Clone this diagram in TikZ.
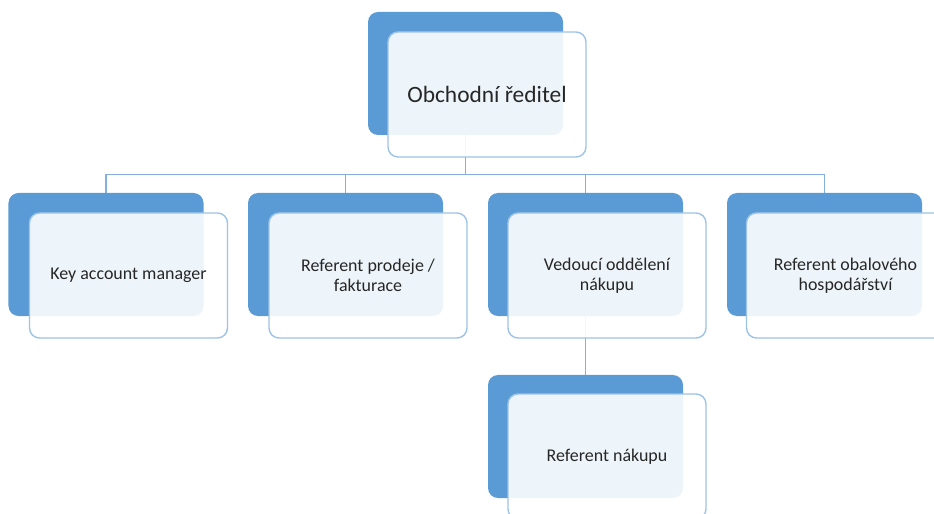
\documentclass[tikz,border=0pt]{standalone}
\usepackage{fontspec}
\setmainfont{Carlito}
\usepackage{tikz}
\usetikzlibrary{backgrounds}
\definecolor{backblue}{RGB}{91,155,213}
\definecolor{edgeblue}{RGB}{157,195,230}
\definecolor{linkblue}{RGB}{132,176,222}

\begin{document}
\begin{tikzpicture}[x=1bp, y=-1bp,
	back/.style = {fill=backblue, rounded corners=10bp, minimum width=195bp, minimum height=123bp},
	front/.style = {draw=edgeblue, line width=1.4pt, fill=white, fill opacity=.9, text opacity=1, rounded corners=10bp,
		minimum width=198bp, minimum height=125bp, align=center, text=black!85, font=\fontsize{18}{20.5}\selectfont},
	link/.style = {draw=linkblue, line width=1.4pt}]
	\clip (0,0) rectangle (934,514);
	% top
	\node[back] (dirB) at (465.5,73.5) {};
	\node[front, font=\fontsize{23.5}{28}\selectfont] (dir) at ([shift={(21.5,21)}]dirB) {Obchodní ředitel};
	% second row
	\node[back] (kamB) at (106,254.5) {};
	\node[front] (kam) at ([shift={(22.5,21)}]kamB) {Key account manager};
	\node[back] (prodB) at (345.5,254.5) {};
	\node[front] (prod) at ([shift={(22.5,21)}]prodB) {Referent prodeje /\\ fakturace};
	\node[back] (nakB) at (585.5,254.5) {};
	\node[front] (nak) at ([shift={(21.5,21)}]nakB) {Vedoucí oddělení\\ nákupu};
	\node[back] (obalB) at (824.5,254.5) {};
	\node[front] (obal) at ([shift={(21,21)}]obalB) {Referent obalového\\ hospodářství};
	% bottom
	\node[back] (refB) at (585.5,436.5) {};
	\node[front] (ref) at ([shift={(21.5,20)}]refB) {Referent nákupu};
	\begin{scope}[on background layer]
		\draw[link] (dirB.south) -- ++(0,39) -| (kamB.north);
		\draw[link] (dirB.south) -- ++(0,39) -| (prodB.north);
		\draw[link] (dirB.south) -- ++(0,39) -| (nakB.north);
		\draw[link] (dirB.south) -- ++(0,39) -| (obalB.north);
		\draw[link] (nakB.south) -- (refB.north);
	\end{scope}
\end{tikzpicture}
\end{document}
